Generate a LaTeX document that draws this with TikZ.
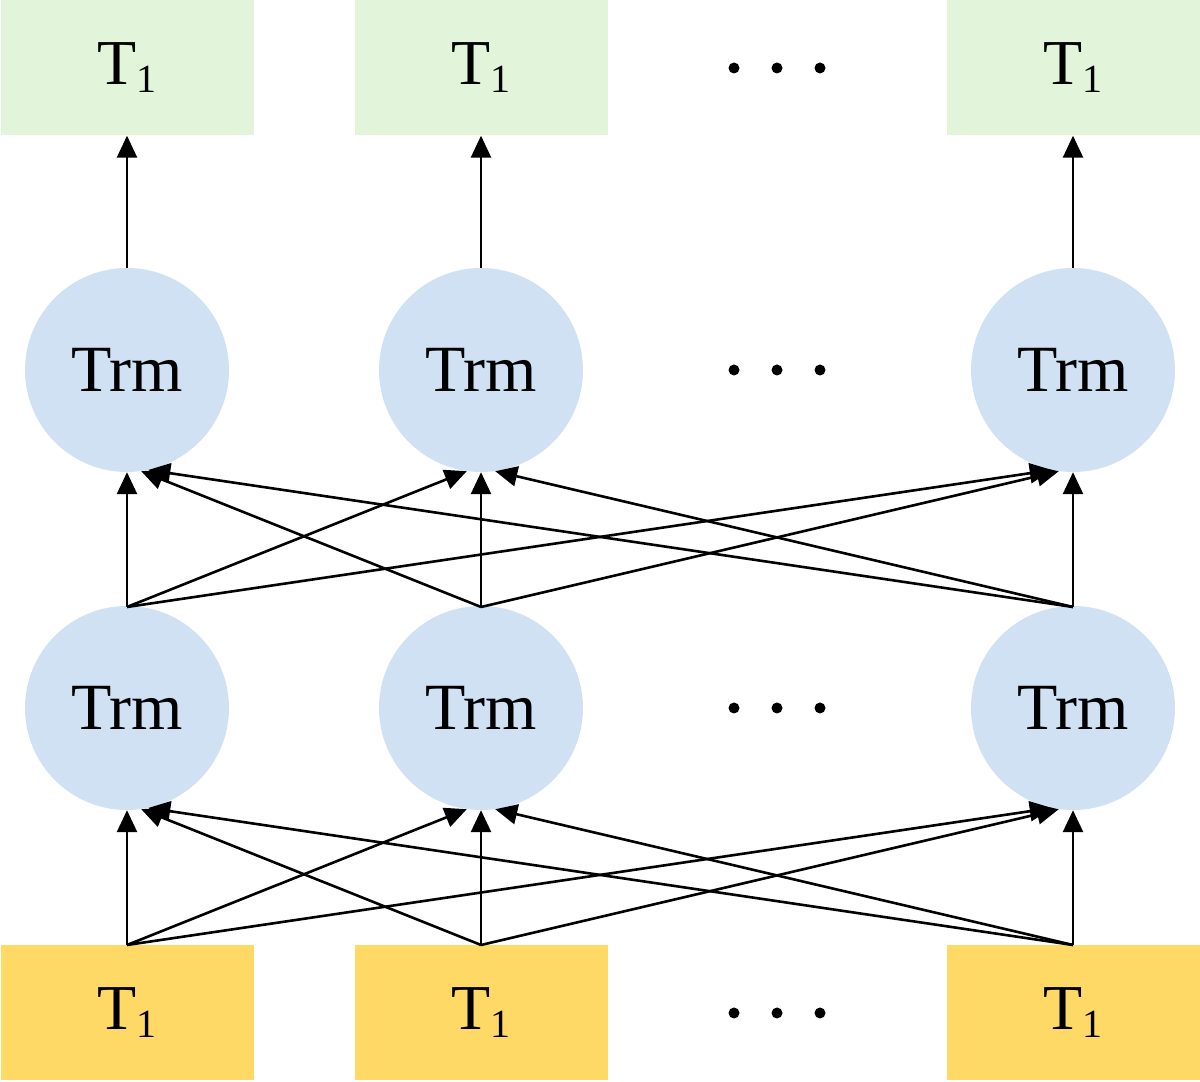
\documentclass[tikz,border=0pt]{standalone}
\usepackage{fontspec}
\setmainfont{Liberation Serif}
\usetikzlibrary{arrows.meta}
\definecolor{gbox}{HTML}{E2F4DA}
\definecolor{ybox}{HTML}{FFD966}
\definecolor{cblue}{HTML}{CFE1F2}
\newcommand{\tone}{T\raisebox{-8pt}{\fontsize{40}{40}\selectfont 1}}
\begin{document}
\begin{tikzpicture}[x=1pt,y=1pt,
 box/.style={minimum width=253pt,minimum height=135pt,inner sep=0,font=\fontsize{64}{70}\selectfont},
 trm/.style={circle,fill=cblue,minimum size=204pt,inner sep=0,font=\fontsize{66}{72}\selectfont},
 arr/.style={-{Triangle[length=22pt,width=20pt]},line width=2.6pt},
 dot/.style={circle,fill=black,minimum size=11pt,inner sep=0}]
\useasboundingbox (0,0) rectangle (1200,1082);
\foreach \n/\x in {1/127,2/481,3/1073}{
 \node[box,fill=gbox] (o\n) at (\x,1014) {\tone};
 \node[box,fill=ybox] (i\n) at (\x,69) {\tone};
 \node[trm] (a\n) at (\x,374) {Trm};
 \node[trm] (b\n) at (\x,712) {Trm};
 \coordinate (ib\n) at (\x,137);
 \coordinate (ab\n) at (\x,475);
}
\foreach \k/\y in {1/1014,2/712,3/374,4/69}{
 \node[dot] (p\k a) at (734,\y) {};
 \node[dot] (p\k b) at (777,\y) {};
 \node[dot] (p\k c) at (820,\y) {};
}
\foreach \n in {1,2,3}{\draw[arr] (b\n.north) -- (o\n.south);}
\foreach \s/\t in {a/i,b/a}{
 \draw[arr] (\t b1) -- (\s1.-90);
 \draw[arr] (\t b2) -- (\s1.-82);
 \draw[arr] (\t b3) -- (\s1.-78);
 \draw[arr] (\t b1) -- (\s2.-98);
 \draw[arr] (\t b2) -- (\s2.-90);
 \draw[arr] (\t b3) -- (\s2.-82);
 \draw[arr] (\t b1) -- (\s3.-102);
 \draw[arr] (\t b2) -- (\s3.-98);
 \draw[arr] (\t b3) -- (\s3.-90);
}
\end{tikzpicture}
\end{document}
